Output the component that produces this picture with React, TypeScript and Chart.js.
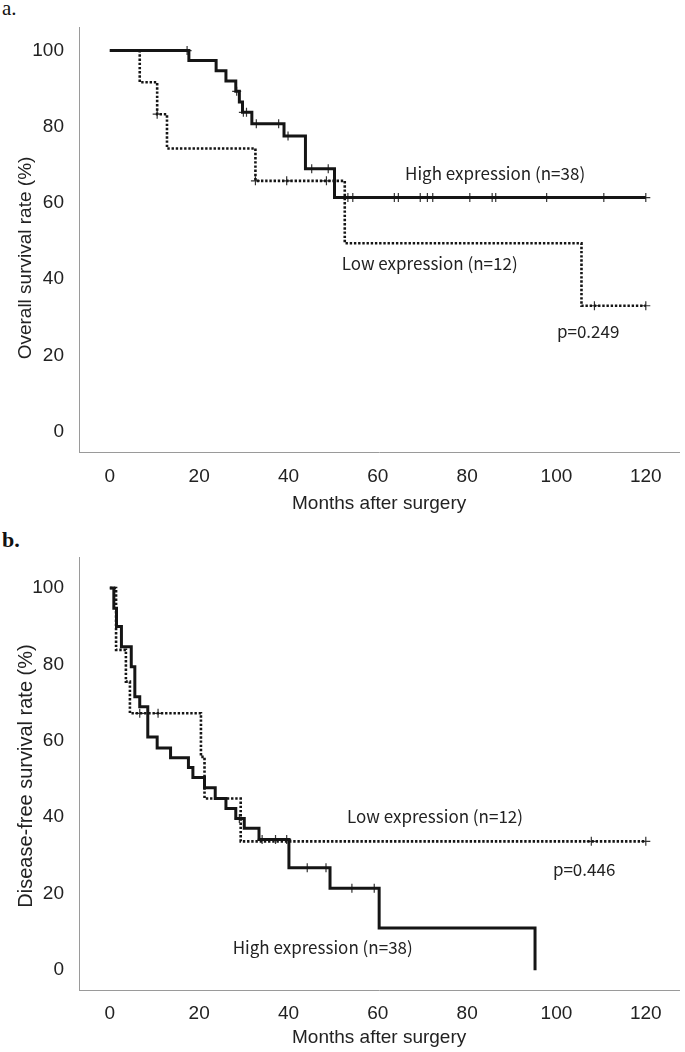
import React, { useEffect, useRef } from 'react';
import { Chart, registerables } from 'chart.js';

Chart.register(...registerables);

// ---------- shared tick labels ----------
const X_TICKS = [0, 20, 40, 60, 80, 100, 120];
const Y_TICKS = [0, 20, 40, 60, 80, 100];

// ---------- panel a: overall survival ----------
const A_HIGH_TIMES = [0, 17.7, 23.8, 26.0, 28.2, 29.0, 29.7, 31.8, 39.0, 43.8, 50.3, 120];
const A_HIGH_SURV = [100, 97.4, 94.7, 92.0, 89.3, 86.5, 83.8, 80.8, 77.6, 69.0, 61.4, 61.4];
const A_HIGH_CENSOR = [17.3, 28.4, 29.9, 30.6, 32.8, 37.8, 39.9, 45.2, 48.9, 53.3, 54.4, 63.7, 64.6, 69.5, 71.1, 72.3, 80.6, 85.6, 86.4, 97.8, 110.6, 120];

const A_LOW_TIMES = [0, 6.7, 10.6, 12.8, 32.6, 52.6, 105.6, 120];
const A_LOW_SURV = [100, 91.7, 83.3, 74.3, 65.8, 49.4, 33.0, 33.0];
const A_LOW_CENSOR = [10.6, 32.6, 39.6, 48.5, 108.5, 120];

// ---------- panel b: disease-free survival ----------
const B_HIGH_TIMES = [0, 0.9, 1.5, 2.6, 4.8, 5.6, 6.7, 8.5, 10.6, 13.6, 17.6, 18.6, 21.2, 23.6, 26.0, 28.2, 30.1, 33.4, 40.1, 49.3, 60.3, 95.2];
const B_HIGH_SURV = [100, 94.7, 89.9, 84.6, 79.4, 71.5, 68.9, 61.0, 58.1, 55.6, 53.0, 50.4, 47.7, 44.9, 42.3, 39.7, 37.1, 34.2, 26.8, 21.4, 11.0, 0];
const B_HIGH_CENSOR = [29.0, 34.1, 37.1, 39.6, 44.2, 48.4, 54.2, 59.2];

const B_LOW_TIMES = [0, 1.4, 3.6, 4.5, 20.4, 21.2, 29.3, 120];
const B_LOW_SURV = [100, 83.8, 75.5, 67.2, 55.8, 44.9, 33.7, 33.7];
const B_LOW_CENSOR = [6.7, 10.8, 107.8, 120];

// ---------- annotations (text, month, percent) ----------
const A_NOTES = [
  { text: 'High expression (n=38)', x: 66.1, y: 67.6 },
  { text: 'Low expression (n=12)', x: 51.9, y: 44.2 },
  { text: 'p=0.249', x: 100.1, y: 26.1 },
];
const B_NOTES = [
  { text: 'Low expression (n=12)', x: 53.1, y: 40.1 },
  { text: 'p=0.446', x: 99.2, y: 26.4 },
  { text: 'High expression (n=38)', x: 27.5, y: 5.8 },
];

function survAt(times: number[], surv: number[], t: number) {
  let v = surv[0];
  for (let i = 0; i < times.length; i++) if (times[i] <= t) v = surv[i];
  return v;
}

const notePlugin = {
  id: 'kmNotes',
  afterDatasetsDraw(chart: any, _args: any, opts: any) {
    const { ctx, scales } = chart;
    ctx.save();
    ctx.font = opts.font;
    ctx.fillStyle = opts.color;
    ctx.textAlign = 'left';
    ctx.textBaseline = 'middle';
    for (const n of opts.items) {
      ctx.fillText(n.text, scales.x.getPixelForValue(n.x), scales.y.getPixelForValue(n.y));
    }
    // rotated y-axis title
    const t = opts.yTitle;
    ctx.translate(t.cx, t.cy);
    ctx.rotate(-Math.PI / 2);
    ctx.font = t.font;
    ctx.fillStyle = opts.color;
    ctx.textAlign = 'center';
    ctx.textBaseline = 'middle';
    ctx.fillText(t.text, 0, 0);
    ctx.restore();
  },
};

const TICK_FONT = { family: '"Liberation Sans Narrow", "Arial Narrow", "Liberation Sans", sans-serif', size: 19 };
const TITLE_FONT = { family: '"Liberation Sans", Arial, sans-serif', size: 19 };
const LINE_COLOR = '#151515';
const MARK_COLOR = '#333';

type PanelProps = {
  highT: number[]; highS: number[]; highC: number[];
  lowT: number[]; lowS: number[]; lowC: number[];
  notes: { text: string; x: number; y: number }[];
  yTitle: string; yTitleSize: number; yTitleCy: number;
  width: number; height: number;
  padTop: number; yAxisW: number; xAxisH: number; titlePadB: number; xTickPad: number;
  xMin: number; xMax: number; yMin: number; yMax: number;
};

function KMPanel(p: PanelProps) {
  const ref = useRef<HTMLCanvasElement>(null);
  useEffect(() => {
    if (!ref.current) return;
    const toPts = (t: number[], s: number[]) => t.map((x, i) => ({ x, y: s[i] }));
    const cens = (c: number[], t: number[], s: number[]) => c.map((x) => ({ x, y: survAt(t, s, x) }));
    const chart = new Chart(ref.current, {
      type: 'line',
      data: {
        datasets: [
          {
            label: 'Low',
            data: toPts(p.lowT, p.lowS),
            stepped: 'before',
            borderColor: LINE_COLOR,
            borderWidth: 2.6,
            borderDash: [2.4, 1.8],
            borderCapStyle: 'butt',
            pointRadius: 0,
            fill: false,
          },
          {
            label: 'High',
            data: toPts(p.highT, p.highS),
            stepped: 'before',
            borderColor: LINE_COLOR,
            borderWidth: 3,
            pointRadius: 0,
            fill: false,
          },
          {
            label: 'Low censored',
            data: cens(p.lowC, p.lowT, p.lowS),
            showLine: false,
            pointStyle: 'cross',
            pointRadius: 4.5,
            pointBorderWidth: 1.2,
            pointBorderColor: MARK_COLOR,
          },
          {
            label: 'High censored',
            data: cens(p.highC, p.highT, p.highS),
            showLine: false,
            pointStyle: 'cross',
            pointRadius: 4.5,
            pointBorderWidth: 1.2,
            pointBorderColor: MARK_COLOR,
          },
        ],
      } as any,
      options: {
        animation: false,
        responsive: false,
        events: [],
        layout: { padding: { top: p.padTop, right: 3, left: 0, bottom: 0 } },
        plugins: {
          legend: { display: false },
          tooltip: { enabled: false },
          kmNotes: {
            items: p.notes,
            font: '17px "Noto Sans CJK JP", "Noto Sans", sans-serif',
            color: '#222',
            yTitle: { text: p.yTitle, cx: 26, cy: p.yTitleCy, font: `${p.yTitleSize}px "Liberation Sans", Arial, sans-serif` },
          },
        } as any,
        scales: {
          x: {
            type: 'linear',
            min: p.xMin,
            max: p.xMax,
            grid: { display: false },
            border: { display: true, color: '#9a9a9a', width: 1 },
            afterBuildTicks: (ax: any) => { ax.ticks = X_TICKS.map((v) => ({ value: v })); },
            afterFit: (ax: any) => { ax.height = p.xAxisH; },
            ticks: { font: TICK_FONT, color: '#222', padding: p.xTickPad, maxRotation: 0, autoSkip: false },
            title: { display: true, text: 'Months after surgery', font: TITLE_FONT, color: '#222', padding: { top: 0, bottom: p.titlePadB } },
          },
          y: {
            type: 'linear',
            min: p.yMin,
            max: p.yMax,
            grid: { display: false },
            border: { display: true, color: '#9a9a9a', width: 1 },
            afterBuildTicks: (ax: any) => { ax.ticks = Y_TICKS.map((v) => ({ value: v })); },
            afterFit: (ax: any) => { ax.width = p.yAxisW; },
            ticks: { font: TICK_FONT, color: '#222', padding: 7 },
            title: { display: false },
          },
        },
      } as any,
      plugins: [notePlugin as any],
    });
    return () => chart.destroy();
  }, []);
  return <canvas ref={ref} width={p.width} height={p.height} style={{ display: 'block' }} />;
}

export default function App() {
  return (
    <div style={{ position: 'absolute', left: 0, top: 0, width: 685, height: 1052, background: '#fff' }}>
      <div style={{ position: 'absolute', left: 2, top: -4, fontFamily: '"Liberation Serif", "Times New Roman", serif', fontSize: 21, color: '#111' }}>a.</div>
      <div style={{ position: 'absolute', left: 0, top: 0 }}>
        <KMPanel
          highT={A_HIGH_TIMES} highS={A_HIGH_SURV} highC={A_HIGH_CENSOR}
          lowT={A_LOW_TIMES} lowS={A_LOW_SURV} lowC={A_LOW_CENSOR}
          notes={A_NOTES}
          yTitle="Overall survival rate (%)" yTitleSize={19} yTitleCy={258}
          width={685} height={520}
          padTop={27} yAxisW={79} xAxisH={68} titlePadB={5} xTickPad={5}
          xMin={-6.9} xMax={127.5} yMin={-5.4} yMax={106.2}
        />
      </div>
      <div style={{ position: 'absolute', left: 2, top: 527, fontFamily: '"Liberation Serif", "Times New Roman", serif', fontSize: 22, fontWeight: 'bold', color: '#111' }}>b.</div>
      <div style={{ position: 'absolute', left: 0, top: 530 }}>
        <KMPanel
          highT={B_HIGH_TIMES} highS={B_HIGH_SURV} highC={B_HIGH_CENSOR}
          lowT={B_LOW_TIMES} lowS={B_LOW_SURV} lowC={B_LOW_CENSOR}
          notes={B_NOTES}
          yTitle="Disease-free survival rate (%)" yTitleSize={20} yTitleCy={246}
          width={685} height={522}
          padTop={27} yAxisW={79} xAxisH={62} titlePadB={3} xTickPad={4}
          xMin={-6.9} xMax={127.5} yMin={-5.2} yMax={108.1}
        />
      </div>
    </div>
  );
}
